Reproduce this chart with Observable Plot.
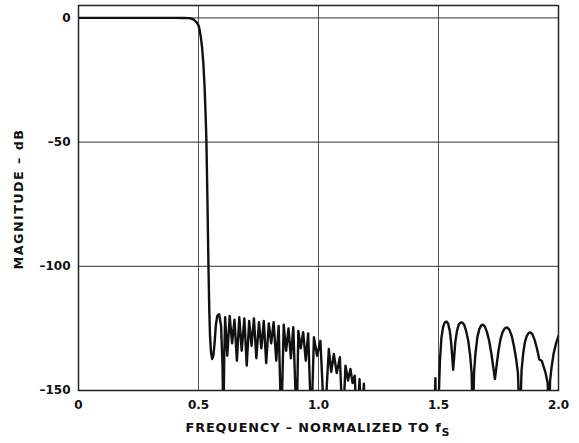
<!DOCTYPE html>
<html>
<head>
<meta charset="utf-8">
<script src="https://cdn.jsdelivr.net/npm/d3@7"></script>
<script src="https://cdn.jsdelivr.net/npm/@observablehq/plot@0.6"></script>
<style>
  html, body { margin: 0; padding: 0; background: #fff; }
  #chart { width: 579px; height: 443px; }
</style>
</head>
<body>
<div id="chart"></div>
<script>
// Frequency (normalized to fS) and magnitude (dB)
const freq = [
  0, 0.1, 0.2, 0.3, 0.4, 0.44, 0.46, 0.47, 0.48, 0.49,
  0.50, 0.505, 0.51, 0.515, 0.52, 0.525, 0.53, 0.533, 0.537, 0.5415,
  0.545, 0.548, 0.552, 0.557, 0.562, 0.567, 0.572, 0.578, 0.586, 0.594,
  0.600, 0.604, 0.607, 0.611, 0.620, 0.630, 0.640, 0.650, 0.660, 0.670,
  0.680, 0.691, 0.701, 0.711, 0.721, 0.731, 0.741, 0.752, 0.762, 0.772,
  0.782, 0.793, 0.803, 0.813, 0.824, 0.834, 0.845, 0.855, 0.865, 0.875,
  0.885, 0.895, 0.909, 0.916, 0.926, 0.936, 0.947, 0.957, 0.970, 0.981,
  0.994, 1.008, 1.025, 1.043, 1.053, 1.064, 1.076, 1.089, 1.101, 1.1125,
  1.123, 1.133, 1.142, 1.151, 1.160, 1.171, 1.180, 1.189, 1.196, 1.200,
  1.480, 1.487, 1.491, 1.497, 1.502, 1.506, 1.512, 1.519, 1.526, 1.533,
  1.540, 1.547, 1.553, 1.558, 1.561, 1.565, 1.570, 1.577, 1.585, 1.593,
  1.599, 1.607, 1.615, 1.624, 1.632, 1.638, 1.643, 1.648, 1.654, 1.662,
  1.670, 1.678, 1.685, 1.693, 1.702, 1.711, 1.720, 1.728, 1.735, 1.742,
  1.750, 1.758, 1.767, 1.776, 1.786, 1.795, 1.805, 1.814, 1.823, 1.831,
  1.839, 1.846, 1.853, 1.860, 1.868, 1.876, 1.883, 1.891, 1.900, 1.910,
  1.920, 1.930, 1.945, 1.955, 1.960, 1.965, 1.972, 1.980, 1.990, 2.000
];
const magnitude = [
  0, 0, 0, 0, 0, -0.02, -0.1, -0.3, -0.7, -1.5,
  -3, -5, -8, -12, -18, -27, -40, -50, -72, -100,
  -118, -128, -134.5, -137.3, -136, -131, -124, -120, -119.3, -124,
  -140, -165, -138, -120.5, -136, -120, -131, -121.5, -138, -120.5,
  -134, -121, -140, -122, -132, -121, -137, -122.5, -133, -122,
  -139, -123, -131, -122.5, -138, -124, -165, -123.5, -134, -125,
  -137, -124.5, -165, -126, -133, -126.5, -138, -127, -165, -128.5,
  -136, -130, -165, -133.3, -142.5, -135.3, -143, -136.6, -165, -140,
  -146, -141.3, -147, -144, -165, -145.4, -165, -147.3, -165, -170,
  -170, -145, -170, -170, -150, -138, -129, -124.5, -122.6, -122.2,
  -123, -126, -131, -137.5, -141.7, -137, -130.5, -126, -123.3, -122.6,
  -122.6, -123.5, -126, -130, -136, -143, -165, -143, -135, -128.5,
  -125.3, -123.8, -123.5, -124.2, -126.5, -130, -135, -140.5, -145.4, -140,
  -134, -129.5, -126.5, -125, -124.6, -125.5, -128, -132, -137, -143,
  -165, -142, -135, -130.5, -128, -126.8, -126.6, -127.3, -129.5, -133,
  -137.5, -138, -142.5, -147, -165, -146, -140, -135, -131, -128
];
const xTicks = [0, 0.5, 1.0, 1.5, 2.0];
const xTickLabels = ["0", "0.5", "1.0", "1.5", "2.0"];
const yTicks = [0, -50, -100, -150];
const yTickLabels = ["0", "\u201350", "\u2013100", "\u2013150"];
const xGrid = [0.5, 1.0, 1.5];
const yGrid = [0, -50, -100];
const xLabel = "FREQUENCY \u2013 NORMALIZED TO f";
const xLabelSub = "S";
const yLabel = "MAGNITUDE \u2013 dB";

const data = freq.map((f, i) => ({f, m: magnitude[i]}));
const font = "'DejaVu Sans', 'Liberation Sans', Arial, sans-serif";

const plot = Plot.plot({
  width: 579,
  height: 443,
  marginLeft: 78,
  marginRight: 21,
  marginTop: 5,
  marginBottom: 53,
  style: {fontFamily: font, fontSize: "12px", fontWeight: "bold", color: "#111", background: "#fff"},
  x: {domain: [0, 2]},
  y: {domain: [-150, 5]},
  marks: [
    Plot.gridX(xGrid, {stroke: "#555", strokeOpacity: 1, strokeWidth: 1}),
    Plot.gridY(yGrid, {stroke: "#333", strokeOpacity: 1, strokeWidth: 1}),
    Plot.line(data, {x: "f", y: "m", stroke: "#111", strokeWidth: 2.4, clip: true, strokeLinejoin: "round"}),
    Plot.frame({stroke: "#222", strokeWidth: 1.5}),
    Plot.axisX(xTicks, {tickSize: 0, tickPadding: 10, label: null,
      tickFormat: (d) => xTickLabels[xTicks.indexOf(d)]}),
    Plot.axisY(yTicks, {tickSize: 0, tickPadding: 8, label: null,
      tickFormat: (d) => yTickLabels[yTicks.indexOf(d)]})
  ]
});

const ns = "http://www.w3.org/2000/svg";
// x-axis label with subscript
const xl = document.createElementNS(ns, "text");
xl.setAttribute("x", 318);
xl.setAttribute("y", 431.5);
xl.setAttribute("text-anchor", "middle");
xl.setAttribute("font-weight", "bold");
xl.setAttribute("font-size", "12.8px");
xl.setAttribute("letter-spacing", "0.9");
xl.setAttribute("fill", "#111");
xl.textContent = xLabel;
const sub = document.createElementNS(ns, "tspan");
sub.setAttribute("dy", "4.5");
sub.setAttribute("font-size", "11px");
sub.textContent = xLabelSub;
xl.appendChild(sub);
plot.appendChild(xl);
// y-axis label
const yl = document.createElementNS(ns, "text");
yl.setAttribute("transform", "translate(23,199) rotate(-90)");
yl.setAttribute("text-anchor", "middle");
yl.setAttribute("font-weight", "bold");
yl.setAttribute("font-size", "12.8px");
yl.setAttribute("letter-spacing", "1.4");
yl.setAttribute("fill", "#111");
yl.textContent = yLabel;
plot.appendChild(yl);

document.getElementById("chart").appendChild(plot);
</script>
</body>
</html>
